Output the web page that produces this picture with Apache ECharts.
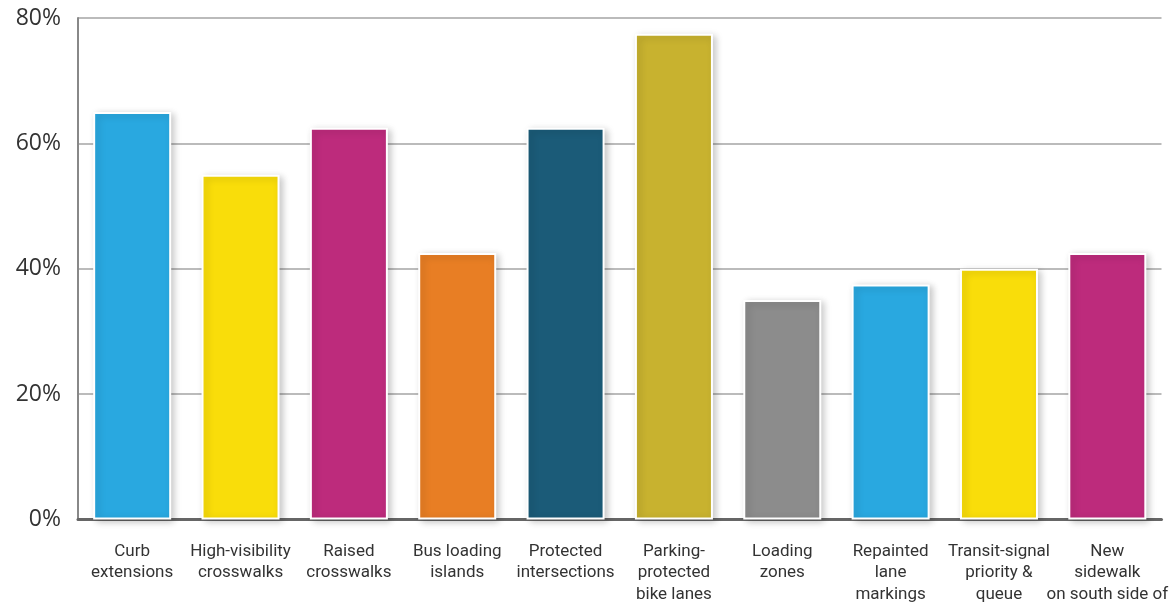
<!DOCTYPE html>
<html>
<head>
<meta charset="utf-8">
<script src="https://cdn.jsdelivr.net/npm/echarts@6/dist/echarts.min.js"></script>
<style>
  html, body { margin: 0; padding: 0; background: #fff; }
  #chart { width: 1171px; height: 605px; }
</style>
</head>
<body>
<div id="chart"></div>
<script>
// Street improvement types shown on the category axis
const categories = [
  'Curb\nextensions',
  'High-visibility\ncrosswalks',
  'Raised\ncrosswalks',
  'Bus loading\nislands',
  'Protected\nintersections',
  'Parking-\nprotected\nbike lanes',
  'Loading\nzones',
  'Repainted\nlane\nmarkings',
  'Transit-signal\npriority &\nqueue',
  'New\nsidewalk\non south side of'
];

// Share for each improvement, in percent
const values = [65, 55, 62.5, 42.5, 62.5, 77.5, 35, 37.5, 40, 42.5];

// One fill per bar
const barColors = [
  '#29A8E0', '#F9DD0A', '#BD2B7C', '#E87E24', '#1B5B78',
  '#C8B22F', '#8C8C8C', '#29A8E0', '#F9DD0A', '#BD2B7C'
];

// Value axis ticks
const yTicks = [0, 20, 40, 60, 80];

const chart = echarts.init(document.getElementById('chart'), null, { renderer: 'canvas' });

chart.setOption({
  animation: false,
  backgroundColor: '#ffffff',
  textStyle: { fontFamily: 'Roboto, "Noto Sans", sans-serif' },
  grid: { left: 78, right: 7, top: 18, bottom: 85, containLabel: false },
  xAxis: {
    type: 'category',
    data: categories,
    axisLine: { show: true, lineStyle: { color: '#666666', width: 3 } },
    axisTick: { show: false },
    axisLabel: {
      interval: 0,
      margin: 21,
      fontSize: 17,
      lineHeight: 21.5,
      color: '#333333',
      align: 'center',
      verticalAlign: 'top'
    }
  },
  yAxis: {
    type: 'value',
    min: yTicks[0],
    max: yTicks[yTicks.length - 1],
    interval: 20,
    axisLine: { show: true, lineStyle: { color: '#888888', width: 2 } },
    axisTick: { show: false },
    splitLine: { show: true, lineStyle: { color: '#bbbbbb', width: 2 } },
    axisLabel: {
      margin: 17,
      fontSize: 23,
      fontFamily: '"Open Sans", "Noto Sans", sans-serif',
      color: '#333333',
      formatter: v => v + '%'
    }
  },
  series: [{
    type: 'bar',
    barWidth: '72%',
    data: values.map((v, i) => ({
      value: v,
      itemStyle: { color: barColors[i] }
    })),
    itemStyle: {
      borderColor: '#ffffff',
      borderWidth: 2,
      shadowColor: 'rgba(0,0,0,0.22)',
      shadowBlur: 7,
      shadowOffsetX: 3,
      shadowOffsetY: 2
    }
  }]
});
</script>
</body>
</html>
